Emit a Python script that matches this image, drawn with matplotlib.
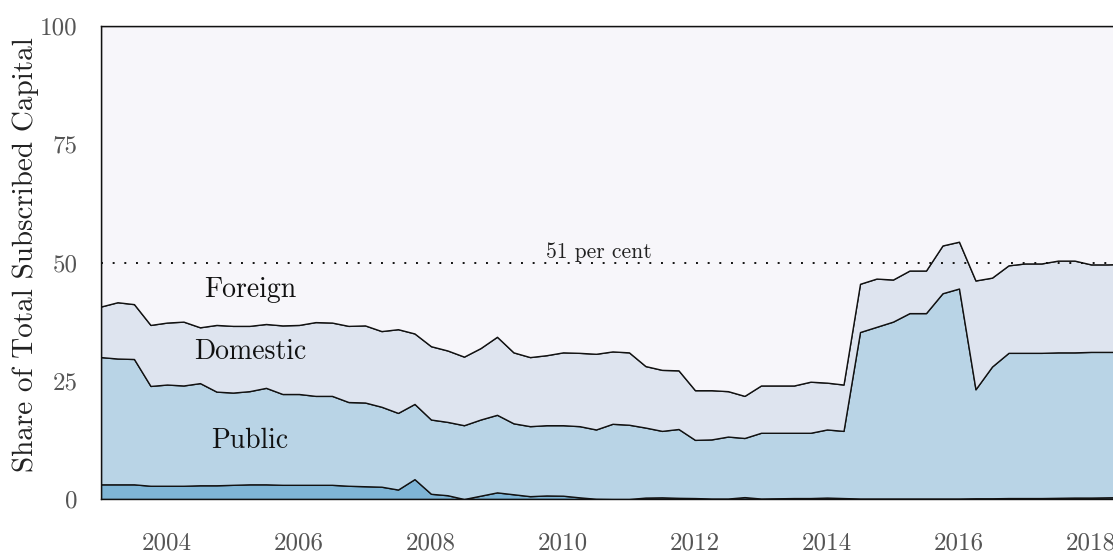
import numpy as np
import matplotlib
matplotlib.use("Agg")
from matplotlib import pyplot as plt

plt.rcParams['font.family'] = ['cmr10', 'DejaVu Serif']
plt.rcParams['mathtext.fontset'] = 'cm'
plt.rcParams['axes.formatter.use_mathtext'] = True

# quarterly observations, 2003Q1 .. 2018Q4
quarters = np.arange(2003.0, 2019.0, 0.25)

other = [3.1, 3.1, 3.1, 2.8, 2.8, 2.8, 2.9, 2.9, 3.0, 3.1, 3.1, 3.0, 3.0, 3.0, 3.0, 2.8,
         2.7, 2.6, 2.0, 4.2, 1.1, 0.8, 0.0, 0.7, 1.4, 1.0, 0.6, 0.75, 0.7, 0.35, 0.05, 0.0,
         0.0, 0.3, 0.35, 0.25, 0.2, 0.1, 0.1, 0.4, 0.1, 0.15, 0.2, 0.2, 0.3, 0.2, 0.1, 0.1,
         0.1, 0.1, 0.1, 0.1, 0.1, 0.15, 0.15, 0.2, 0.2, 0.2, 0.25, 0.3, 0.3, 0.35, 0.4, 0.4]
public = [26.9, 26.6, 26.5, 21.1, 21.4, 21.2, 21.6, 19.8, 19.5, 19.7, 20.4, 19.2, 19.2, 18.8, 18.8, 17.7,
          17.7, 16.9, 16.2, 15.9, 15.7, 15.5, 15.6, 16.1, 16.4, 15.0, 14.8, 14.85, 14.9, 15.05, 14.65, 15.9,
          15.7, 14.8, 14.05, 14.55, 12.3, 12.5, 13.1, 12.5, 13.9, 13.85, 13.8, 13.8, 14.4, 14.2, 35.2, 36.3,
          37.4, 39.2, 39.2, 43.4, 44.4, 23.05, 27.85, 30.7, 30.7, 30.7, 30.75, 30.7, 30.8, 30.75, 30.7, 30.8]
domestic = [10.7, 11.9, 11.6, 12.9, 13.1, 13.5, 11.8, 14.1, 14.1, 13.8, 13.5, 14.5, 14.6, 15.6, 15.5, 16.1,
            16.3, 16.0, 17.7, 14.9, 15.5, 15.1, 14.5, 15.1, 16.5, 15.0, 14.6, 14.8, 15.4, 15.5, 16.0, 15.3,
            15.3, 13.0, 12.9, 12.4, 10.5, 10.4, 9.6, 8.9, 10.0, 10.0, 10.0, 10.8, 9.9, 9.8, 10.2, 10.2,
            8.9, 9.0, 9.0, 10.1, 9.9, 23.0, 18.8, 18.5, 18.9, 18.9, 19.4, 19.4, 18.5, 18.5, 18.6, 18.5]
foreign = 100 - np.array(other) - np.array(public) - np.array(domestic)

layer_colors = ['#7fb5d6', '#b9d4e6', '#dee4ef', '#f7f6fa']
xticks = [2004, 2006, 2008, 2010, 2012, 2014, 2016, 2018]
yticks = [0, 25, 50, 75, 100]

fig = plt.figure(figsize=(11.13, 5.54), dpi=100)
ax = fig.add_axes([101 / 1113, 55 / 554, 1039.5 / 1113, 473 / 554])

ax.stackplot(quarters, other, public, domestic, foreign, colors=layer_colors,
             edgecolor='#111111', linewidth=1.0)
ax.axhline(50, color='#111111', linestyle=(0, (1, 5)), linewidth=1.4)
ax.text(2010.54, 50.9, '51 per cent', fontsize=15.5, ha='center', va='baseline', color='#222222')

ax.text(2005.26, 42.8, 'Foreign', fontsize=20, ha='center', va='baseline', color='#111111')
ax.text(2005.26, 29.7, 'Domestic', fontsize=20, ha='center', va='baseline', color='#111111')
ax.text(2005.26, 10.7, 'Public', fontsize=20, ha='center', va='baseline', color='#111111')

ax.set_xlim(2003.0, 2018.75)
ax.set_ylim(0, 100)
ax.set_xticks(xticks)
ax.set_xticklabels([str(t) for t in xticks])
ax.set_yticks(yticks)
ax.set_yticklabels([str(t) for t in yticks])
ax.tick_params(length=0, labelsize=18, labelcolor='#555555')
ax.tick_params(axis='x', pad=24)
ax.tick_params(axis='y', pad=17)
ax.set_ylabel('Share of Total Subscribed Capital', fontsize=21, color='#222222')
ax.yaxis.set_label_coords(-0.06, 0.516)
for s in ax.spines.values():
    s.set_color('#111111')
    s.set_linewidth(1.0)

fig.savefig('out.png', dpi=100)
